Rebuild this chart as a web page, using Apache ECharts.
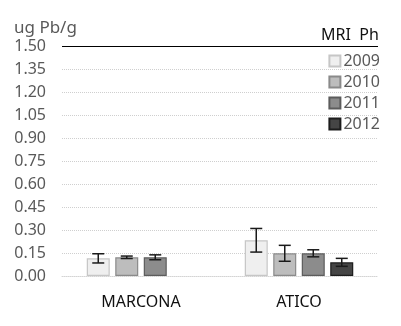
<!DOCTYPE html>
<html>
<head>
<meta charset="utf-8">
<script src="https://cdn.jsdelivr.net/npm/echarts@6/dist/echarts.min.js"></script>
<style>
    html, body { margin: 0; padding: 0; background: #fff; }
    #js-chart { width: 401px; height: 326px; }
</style>
</head>
<body>
<div id="js-chart"></div>
<script>
// sitios y años
var categories = ["MARCONA", "ATICO"];
var years = ["2009", "2010", "2011", "2012"];
// promedio por año (MARCONA, ATICO)
var mean2009 = [0.115, 0.233];
var mean2010 = [0.122, 0.148];
var mean2011 = [0.122, 0.148];
var mean2012 = [null, 0.089];
// desviación (barra de error)
var err2009 = [0.03, 0.077];
var err2010 = [0.008, 0.052];
var err2011 = [0.016, 0.023];
var err2012 = [null, 0.026];
var yTicks = [0, 0.15, 0.30, 0.45, 0.60, 0.75, 0.90, 1.05, 1.20, 1.35, 1.50];

var means = [mean2009, mean2010, mean2011, mean2012];
var errs = [err2009, err2010, err2011, err2012];
var fills = ["#efefef", "#bdbdbd", "#8c8c8c", "#454545"];
var borders = ["#c6c6c6", "#8a8a8a", "#5c5c5c", "#1c1c1c"];
var barW = 23, barGapPx = 5.5;

var chart = echarts.init(document.getElementById('js-chart'));
var series = [];
for (var k = 0; k < years.length; k++) {
    series.push({
        name: years[k],
        type: 'bar',
        barWidth: barW,
        barGap: (barGapPx / barW * 100) + '%',
        itemStyle: { color: fills[k], borderColor: borders[k], borderWidth: 1.2 },
        data: means[k],
        markLine: k === 0 ? {
            silent: true,
            symbol: 'none',
            label: { show: false },
            lineStyle: { color: '#000', width: 1, type: 'solid' },
            data: [{ yAxis: yTicks[yTicks.length - 1] }]
        } : undefined
    });
}
// barras de error
for (var k = 0; k < years.length; k++) {
    var edata = [];
    for (var i = 0; i < categories.length; i++) {
        if (means[k][i] != null) edata.push([i, means[k][i], errs[k][i]]);
    }
    series.push({
        type: 'custom',
        name: 'err' + years[k],
        z: 5,
        silent: true,
        renderItem: (function (idx) {
            return function (params, api) {
                var c = api.value(0), m = api.value(1), e = api.value(2);
                var hi = api.coord([c, m + e]);
                var lo = api.coord([c, m - e]);
                var x = hi[0] + (idx - 1.5) * (barW + barGapPx);
                var cap = 6;
                var st = { stroke: '#1a1a1a', lineWidth: 1.5 };
                return {
                    type: 'group',
                    children: [
                        { type: 'line', shape: { x1: x, y1: hi[1], x2: x, y2: lo[1] }, style: st },
                        { type: 'line', shape: { x1: x - cap, y1: hi[1], x2: x + cap, y2: hi[1] }, style: st },
                        { type: 'line', shape: { x1: x - cap, y1: lo[1], x2: x + cap, y2: lo[1] }, style: st }
                    ]
                };
            };
        })(k),
        data: edata
    });
}

chart.setOption({
    animation: false,
    textStyle: { fontFamily: 'Noto Sans' },
    grid: { left: 62, right: 23, top: 46, bottom: 50 },
    legend: {
        data: years,
        orient: 'vertical',
        right: 16,
        top: 48,
        itemWidth: 11,
        itemHeight: 11,
        itemGap: 5,
        icon: 'rect',
        textStyle: { color: '#595959', fontSize: 16, padding: [0, 0, 0, -2] }
    },
    xAxis: {
        type: 'category',
        data: categories,
        axisTick: { show: false },
        axisLine: { lineStyle: { color: '#d4d4d4', type: [1, 1] } },
        axisLabel: { color: '#111', fontSize: 16, margin: 18 }
    },
    yAxis: {
        type: 'value',
        min: yTicks[0],
        max: yTicks[yTicks.length - 1],
        interval: 0.15,
        axisLine: { show: false },
        axisTick: { show: false },
        axisLabel: {
            color: '#595959', fontSize: 16, margin: 16,
            formatter: function (v) { return v.toFixed(2); }
        },
        splitLine: { lineStyle: { color: '#cfcfcf', type: [1, 1] } }
    },
    graphic: [
        { type: 'text', left: 14, top: 20, style: { text: 'ug Pb/g', fill: '#595959', font: '17px "Noto Sans"' } },
        { type: 'text', left: 321, top: 27, style: { text: 'MRI  Ph', fill: '#111', font: '16px "Noto Sans"' } }
    ],
    series: series
});
</script>
</body>
</html>
